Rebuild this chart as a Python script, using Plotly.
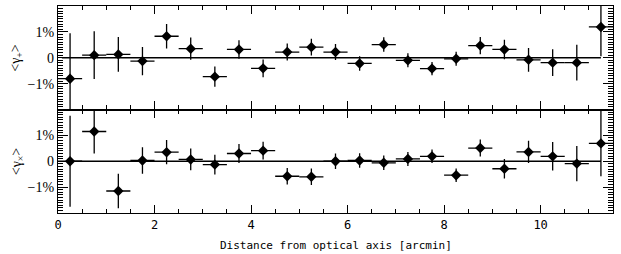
import plotly.graph_objects as go

# bin centres [arcmin]
radius = [0.25, 0.75, 1.25, 1.75, 2.25, 2.75, 3.25, 3.75, 4.25, 4.75, 5.25, 5.75,
          6.25, 6.75, 7.25, 7.75, 8.25, 8.75, 9.25, 9.75, 10.25, 10.75, 11.25]
bin_halfwidth = [0.25] * len(radius)

# <gamma_+> in percent
gamma_t = [-0.81, 0.10, 0.13, -0.13, 0.83, 0.35, -0.73, 0.32, -0.41, 0.22, 0.41, 0.22,
           -0.22, 0.51, -0.10, -0.42, -0.04, 0.47, 0.32, -0.08, -0.19, -0.19, 1.19]
gamma_t_err = [1.76, 0.92, 0.67, 0.55, 0.47, 0.43, 0.39, 0.36, 0.34, 0.33, 0.32, 0.31,
               0.28, 0.28, 0.27, 0.26, 0.27, 0.33, 0.38, 0.46, 0.52, 0.69, 1.13]

# <gamma_x> in percent
gamma_x = [0.00, 1.15, -1.15, 0.03, 0.35, 0.07, -0.13, 0.30, 0.41, -0.58, -0.60, 0.00,
           0.03, -0.06, 0.09, 0.19, -0.54, 0.51, -0.29, 0.36, 0.19, -0.09, 0.69]
gamma_x_err = [1.76, 0.85, 0.67, 0.51, 0.47, 0.42, 0.38, 0.37, 0.34, 0.32, 0.32, 0.30,
               0.28, 0.28, 0.27, 0.26, 0.26, 0.33, 0.38, 0.43, 0.55, 0.68, 1.27]

y_tickvals = [-1, 0, 1]
y_ticktext = ["\u22121%", "0", "1%"]
x_tickvals = [0, 2, 4, 6, 8, 10]

fig = go.Figure()

def add_series(y, err, xa, ya):
    fig.add_trace(go.Scatter(
        x=radius, y=y, mode="markers", xaxis=xa, yaxis=ya,
        marker=dict(symbol="diamond", size=8, color="black"),
        error_x=dict(type="data", array=bin_halfwidth, width=0, thickness=1.3, color="black"),
        error_y=dict(type="data", array=err, width=0, thickness=1.3, color="black"),
        showlegend=False, cliponaxis=True,
    ))

add_series(gamma_t, gamma_t_err, "x2", "y2")
add_series(gamma_x, gamma_x_err, "x", "y")

fig.add_shape(type="line", xref="x2", yref="y2", x0=0.08, x1=radius[-1], y0=0, y1=0,
              line=dict(color="black", width=1.3))
fig.add_shape(type="line", xref="x", yref="y", x0=radius[0], x1=radius[-1], y0=0, y1=0,
              line=dict(color="black", width=1.3))

tickfont_y = dict(family="Liberation Serif", size=14, color="black")
tickfont_x = dict(family="DejaVu Sans Mono", size=12, color="black")

yax = dict(range=[-2, 2], tickvals=y_tickvals, ticktext=y_ticktext, ticks="inside",
           ticklen=10, tickwidth=1, tickcolor="black", showline=True, linecolor="black",
           linewidth=1.3, mirror="ticks", showgrid=False, zeroline=False,
           tickfont=tickfont_y, automargin=False,
           minor=dict(dtick=0.1, tick0=0, ticks="inside", ticklen=5, tickcolor="black",
                      tickwidth=1, showgrid=False))
xax = dict(range=[0, 11.5], tickvals=x_tickvals, ticks="inside", ticklen=8, tickwidth=1,
           tickcolor="black", showline=True, linecolor="black", linewidth=1.3,
           mirror="ticks", showgrid=False, zeroline=False, tickfont=tickfont_x,
           automargin=False,
           minor=dict(dtick=0.5, tick0=0, ticks="inside", ticklen=4, tickcolor="black",
                      tickwidth=1, showgrid=False))

fig.update_layout(
    width=621, height=254,
    margin=dict(l=58, r=8, t=6, b=41),
    paper_bgcolor="white", plot_bgcolor="white",
    xaxis=dict(xax, domain=[0, 1], anchor="y"),
    yaxis=dict(yax, domain=[0, 0.5], anchor="x"),
    xaxis2=dict(xax, domain=[0, 1], anchor="y2", showticklabels=False, matches="x"),
    yaxis2=dict(yax, domain=[0.5, 1], anchor="x2"),
)

fig.add_annotation(text="Distance from optical axis [arcmin]", xref="paper", yref="paper",
                   x=0.5, y=0, yshift=-32, showarrow=False, xanchor="center",
                   yanchor="middle",
                   font=dict(family="DejaVu Sans Mono", size=11, color="black"))
fig.add_annotation(text="&lt;\u03b3<sub>+</sub>&gt;", xref="paper", yref="paper",
                   x=0, y=0.75, xshift=-41, textangle=-90, showarrow=False,
                   xanchor="center", yanchor="middle",
                   font=dict(family="Liberation Serif", size=14, color="black"))
fig.add_annotation(text="&lt;\u03b3<sub>\u00d7</sub>&gt;", xref="paper", yref="paper",
                   x=0, y=0.25, xshift=-41, textangle=-90, showarrow=False,
                   xanchor="center", yanchor="middle",
                   font=dict(family="Liberation Serif", size=14, color="black"))

fig.write_html("out.html", config={"displayModeBar": False},
               post_script="document.body.style.margin='0';document.body.style.overflow='hidden';")
